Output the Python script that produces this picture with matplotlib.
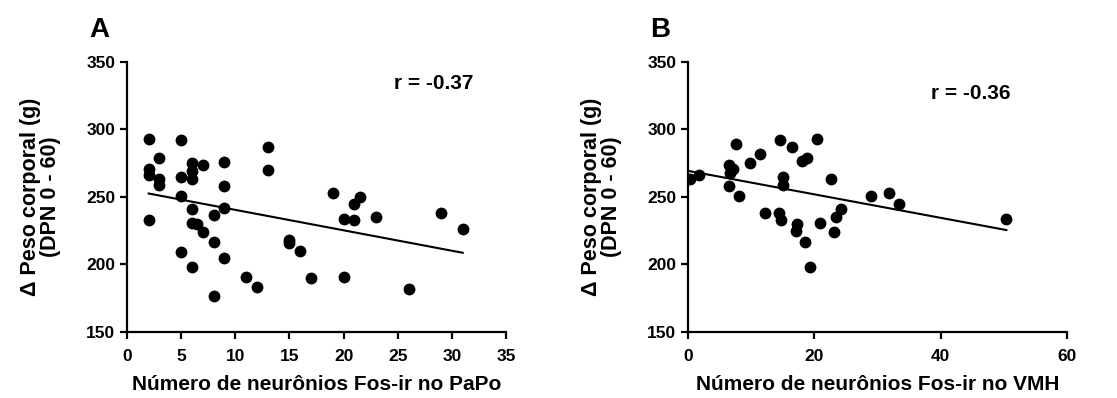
import matplotlib
matplotlib.use("Agg")
import matplotlib.pyplot as plt
import numpy as np

plt.rcParams['font.family'] = ['Liberation Sans', 'DejaVu Sans']
plt.rcParams['font.weight'] = 'bold'

# panel A: PaPo
papo_x = [2, 2, 2, 2, 3, 3, 3, 5, 5, 5, 5, 6, 6, 6, 6, 6, 6, 6.5, 7, 7,
          8, 8, 8, 9, 9, 9, 9, 11, 12, 13, 13, 15, 15, 16, 17, 19, 20, 20,
          21, 21, 21.5, 23, 26, 29, 31]
papo_y = [293, 271, 266, 233, 279, 263, 259, 292, 265, 251, 209, 275, 269,
          263, 241, 231, 198, 230, 274, 224, 237, 217, 177, 276, 258, 242,
          205, 191, 183, 287, 270, 218, 216, 210, 190, 253, 234, 191, 233,
          245, 250, 235, 182, 238, 226]

# panel B: VMH
vmh_x = [0.3, 1.7, 6.5, 6.7, 7.1, 6.5, 7.6, 8.0, 9.8, 11.4, 12.2, 14.5, 15.1,
         15.1, 14.4, 14.8, 16.4, 17.2, 17.1, 18.1, 18.9, 18.5, 19.3, 20.5,
         20.9, 22.6, 23.1, 23.5, 24.3, 29.0, 31.8, 33.4, 50.4]
vmh_y = [263, 266, 274, 268, 271, 258, 289, 251, 275, 282, 238, 292, 265,
         259, 238, 233, 287, 230, 225, 277, 279, 217, 198, 293, 231, 263,
         224, 235, 241, 251, 253, 245, 234]

panels = [
    ("A", papo_x, papo_y, "r = -0.37", [0, 5, 10, 15, 20, 25, 30, 35], (0, 35),
     "Número de neurônios Fos-ir no PaPo", (0.81, 0.92)),
    ("B", vmh_x, vmh_y, "r = -0.36", [0, 20, 40, 60], (0, 60),
     "Número de neurônios Fos-ir no VMH", (0.745, 0.885)),
]
lefts = [127 / 1117, 688 / 1117]

fig = plt.figure(figsize=(11.17, 3.98), dpi=100)
for (letter, x, y, rtxt, xt, xl, xlab, rpos), left in zip(panels, lefts):
    ax = fig.add_axes([left, 66 / 398, 379 / 1117, 270 / 398])
    ax.plot(x, y, 'o', color='black', markersize=7.5)
    k, b = np.polyfit(x, y, 1)
    xs = np.array([min(x), max(x)])
    ax.plot(xs, k * xs + b, color='black', linewidth=1.5)
    ax.set_xlim(xl)
    ax.set_ylim(150, 350)
    ax.set_xticks(xt)
    ax.set_yticks([150, 200, 250, 300, 350])
    ax.spines['top'].set_visible(False)
    ax.spines['right'].set_visible(False)
    ax.spines['left'].set_linewidth(1.6)
    ax.spines['bottom'].set_linewidth(1.6)
    ax.tick_params(width=1.6, length=5, labelsize=12.5)
    ax.tick_params(axis='x', pad=7)
    for t in ax.get_xticklabels() + ax.get_yticklabels():
        t.set_fontweight('bold')
    ax.set_xlabel(xlab, fontsize=15, fontweight='bold', labelpad=8)
    ax.set_ylabel("Δ Peso corporal (g)\n(DPN 0 - 60)", fontsize=15.5,
                  fontweight='bold', labelpad=18, linespacing=0.95)
    ax.text(rpos[0], rpos[1], rtxt, transform=ax.transAxes, ha='center',
            va='center', fontsize=15, fontweight='bold')
    ax.text(-0.1, 1.118, letter, transform=ax.transAxes, ha='left',
            va='center', fontsize=20, fontweight='bold')

fig.savefig("out.png", dpi=100)
